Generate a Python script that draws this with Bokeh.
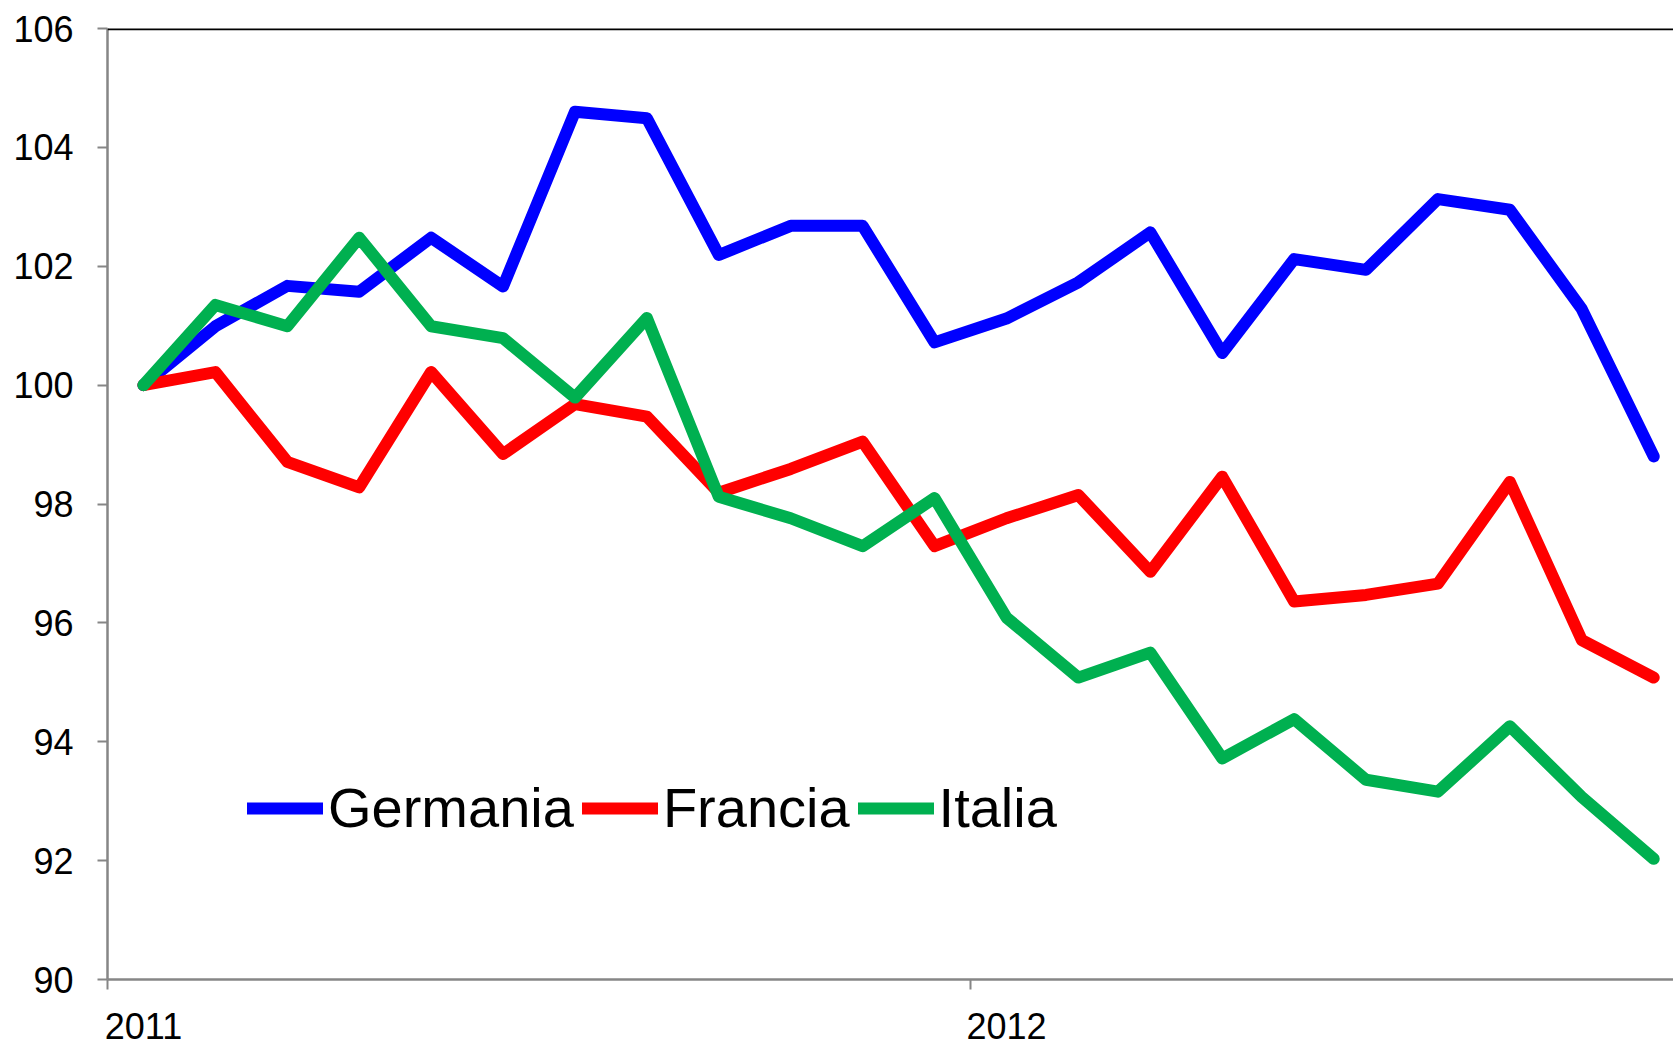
from bokeh.plotting import figure
from bokeh.models import Range1d, FixedTicker, Legend, LegendItem, Span
from bokeh.embed import file_html
from bokeh.resources import INLINE

months = ["2011-01", "2011-02", "2011-03", "2011-04", "2011-05", "2011-06",
          "2011-07", "2011-08", "2011-09", "2011-10", "2011-11", "2011-12",
          "2012-01", "2012-02", "2012-03", "2012-04", "2012-05", "2012-06",
          "2012-07", "2012-08", "2012-09", "2012-10"]

germania = [100.0, 100.99, 101.67, 101.57, 102.48, 101.66, 104.60, 104.49,
            102.19, 102.68, 102.68, 100.72, 101.12, 101.73, 102.57, 100.54,
            102.12, 101.94, 103.13, 102.95, 101.28, 98.80]
francia = [100.0, 100.22, 98.71, 98.28, 100.22, 98.84, 99.68, 99.47,
           98.19, 98.59, 99.05, 97.29, 97.76, 98.15, 96.86, 98.46,
           96.36, 96.47, 96.66, 98.37, 95.71, 95.08]
italia = [100.0, 101.35, 100.99, 102.48, 100.99, 100.79, 99.79, 101.13,
          98.12, 97.76, 97.29, 98.10, 96.09, 95.08, 95.50, 93.72,
          94.38, 93.36, 93.16, 94.26, 93.07, 92.03]

y_ticks = [90, 92, 94, 96, 98, 100, 102, 104, 106]
year_labels = {0.5: "2011", 12.5: "2012"}
year_bounds = [0, 12, 24]

FONT = "Liberation Sans"
cat_w = (970 - 107) / 12.0
frame_w = 1566
x = [i + 0.5 for i in range(len(months))]

p = figure(output_backend="svg", toolbar_location=None,
           frame_width=frame_w, frame_height=951,
           min_border_left=107, min_border_top=28, min_border_right=0,
           min_border_bottom=71,
           x_range=Range1d(0, frame_w / cat_w), y_range=Range1d(90, 106))
p.outline_line_color = None
p.grid.visible = False
p.background_fill_color = "white"

# axes
p.yaxis.ticker = FixedTicker(ticks=y_ticks)
p.yaxis.axis_line_color = "#868686"
p.yaxis.axis_line_width = 2.5
p.yaxis.major_tick_line_color = "#868686"
p.yaxis.major_tick_line_width = 2
p.yaxis.major_tick_out = 10
p.yaxis.major_tick_in = 0
p.yaxis.minor_tick_line_color = None
p.yaxis.major_label_standoff = 24
p.yaxis.major_label_text_font = FONT
p.yaxis.major_label_text_font_size = "36px"
p.yaxis.major_label_text_color = "black"

p.xaxis.ticker = FixedTicker(ticks=list(year_labels.keys()), minor_ticks=year_bounds)
p.xaxis.major_label_overrides = year_labels
p.xaxis.axis_line_color = "#868686"
p.xaxis.axis_line_width = 2.5
p.xaxis.major_tick_line_color = None
p.xaxis.major_tick_out = 0
p.xaxis.major_tick_in = 0
p.xaxis.minor_tick_line_color = "#868686"
p.xaxis.minor_tick_line_width = 2
p.xaxis.minor_tick_out = 10
p.xaxis.minor_tick_in = 0
p.xaxis.major_label_standoff = 23
p.xaxis.major_label_text_font = FONT
p.xaxis.major_label_text_font_size = "36px"
p.xaxis.major_label_text_color = "black"

top = Span(location=106, dimension="width", line_color="black", line_width=3.5)
p.add_layout(top)

series = [("Germania", germania, "#0000FF"),
          ("Francia", francia, "#FF0000"),
          ("Italia", italia, "#00B050")]
items = []
for name, vals, col in series:
    r = p.line(x, vals, line_color=col, line_width=12,
               line_join="round", line_cap="round")
    items.append(LegendItem(label=name, renderers=[r]))

legend = Legend(items=items, orientation="horizontal", location=(140, 139),
                padding=0, margin=0, spacing=8, label_standoff=5,
                glyph_width=76, glyph_height=20,
                border_line_color=None, background_fill_alpha=0,
                label_text_font=FONT, label_text_font_size="56px",
                label_text_color="black")
p.add_layout(legend, "center")

open("out.html", "w").write(file_html(p, INLINE))
